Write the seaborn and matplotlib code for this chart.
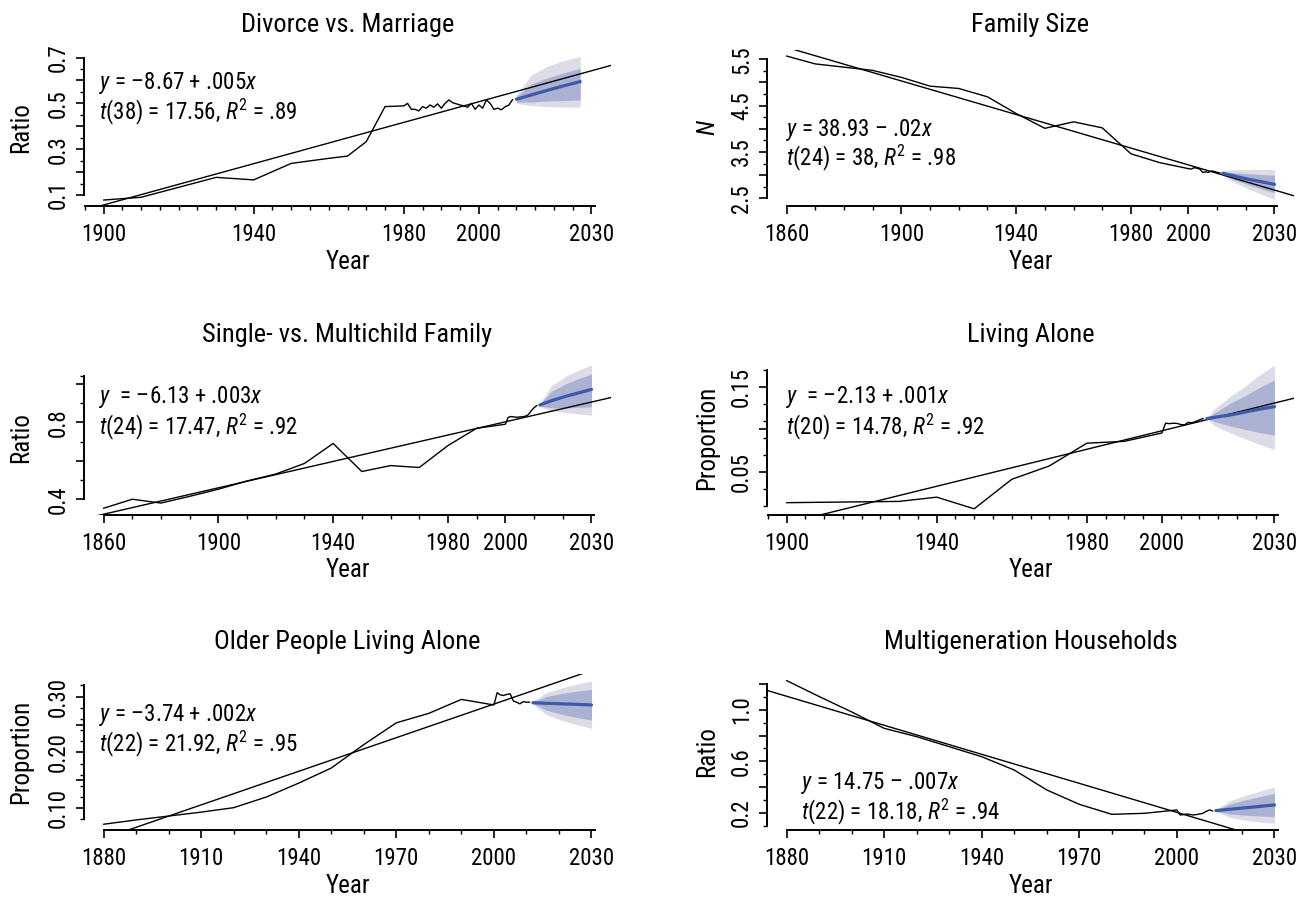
import numpy as np
import pandas as pd
import seaborn as sns
import matplotlib.pyplot as plt
from matplotlib import font_manager as fm

# ---------------- data ----------------
# Divorce vs. Marriage
divorce_years = [1900, 1910, 1930, 1940, 1950, 1960, 1965, 1970, 1975] + list(range(1980, 2010))
divorce_ratio = [0.078, 0.090, 0.177, 0.166, 0.238, 0.260, 0.270, 0.333, 0.486,
                 0.489, 0.500, 0.474, 0.474, 0.467, 0.486, 0.479, 0.493, 0.483, 0.498,
                 0.479, 0.500, 0.515, 0.503, 0.498, 0.493, 0.489, 0.483, 0.500, 0.474,
                 0.493, 0.479, 0.515, 0.500, 0.474, 0.479, 0.472, 0.485, 0.493, 0.517]
divorce_fc_years = [2010, 2014, 2018, 2022, 2027]
divorce_fc_mean = [0.518, 0.537, 0.556, 0.574, 0.595]
divorce_fc_hi95 = [0.537, 0.625, 0.660, 0.684, 0.704]
divorce_fc_hi80 = [0.530, 0.585, 0.610, 0.630, 0.653]
divorce_fc_lo80 = [0.505, 0.506, 0.510, 0.512, 0.515]
divorce_fc_lo95 = [0.500, 0.490, 0.486, 0.484, 0.483]

# Family Size
famsize_years = [1860, 1870, 1880, 1890, 1900, 1910, 1920, 1930, 1940, 1950, 1960,
                 1970, 1980, 1990] + list(range(2000, 2012))
famsize_n = [5.57, 5.40, 5.33, 5.26, 5.11, 4.92, 4.87, 4.69, 4.33, 4.01, 4.15,
             4.02, 3.46, 3.27, 3.14, 3.13, 3.16, 3.15, 3.13, 3.06, 3.07, 3.06,
             3.09, 3.08, 3.06, 3.05]
famsize_fc_years = [2012, 2016, 2021, 2026, 2030]
famsize_fc_mean = [3.04, 2.98, 2.91, 2.85, 2.80]
famsize_fc_hi95 = [3.10, 3.12, 3.12, 3.12, 3.12]
famsize_fc_hi80 = [3.07, 3.05, 3.03, 3.01, 3.00]
famsize_fc_lo80 = [3.01, 2.90, 2.79, 2.69, 2.62]
famsize_fc_lo95 = [2.99, 2.84, 2.70, 2.57, 2.48]

# Single- vs. Multichild Family
single_years = [1860, 1870, 1880, 1890, 1900, 1910, 1920, 1930, 1940, 1950, 1960,
                1970, 1980, 1990] + list(range(2000, 2012))
single_ratio = [0.353, 0.400, 0.380, 0.415, 0.452, 0.495, 0.531, 0.586, 0.690, 0.544,
                0.575, 0.565, 0.679, 0.769, 0.790, 0.826, 0.830, 0.828, 0.826, 0.828,
                0.829, 0.832, 0.840, 0.860, 0.876, 0.888]
single_fc_years = [2012, 2016, 2021, 2026, 2030]
single_fc_mean = [0.890, 0.912, 0.935, 0.955, 0.971]
single_fc_hi95 = [0.900, 0.990, 1.040, 1.075, 1.098]
single_fc_hi80 = [0.895, 0.960, 1.000, 1.030, 1.051]
single_fc_lo80 = [0.885, 0.875, 0.875, 0.878, 0.881]
single_fc_lo95 = [0.880, 0.860, 0.850, 0.843, 0.838]

# Living Alone
alone_years = [1900, 1910, 1920, 1930, 1940, 1950, 1960, 1970, 1980, 1990] + list(range(2000, 2012))
alone_prop = [0.0135, 0.0140, 0.0145, 0.0150, 0.0200, 0.0063, 0.0410, 0.0567, 0.0835,
              0.0857, 0.0955, 0.1070, 0.1065, 0.1070, 0.1068, 0.1055, 0.1050, 0.1080,
              0.1075, 0.1090, 0.1110, 0.1125]
alone_fc_years = [2012, 2014, 2018, 2022, 2026, 2030]
alone_fc_mean = [0.1125, 0.1140, 0.1165, 0.1200, 0.1235, 0.1265]
alone_fc_hi95 = [0.1125, 0.1240, 0.1380, 0.1500, 0.1640, 0.1755]
alone_fc_hi80 = [0.1125, 0.1190, 0.1300, 0.1390, 0.1490, 0.1580]
alone_fc_lo80 = [0.1125, 0.1090, 0.1040, 0.1000, 0.0960, 0.0930]
alone_fc_lo95 = [0.1125, 0.1040, 0.0960, 0.0890, 0.0820, 0.0763]

# Older People Living Alone
older_years = [1880, 1890, 1900, 1910, 1920, 1930, 1940, 1950, 1960, 1970, 1980,
               1990] + list(range(2000, 2012))
older_prop = [0.0713, 0.079, 0.086, 0.093, 0.101, 0.120, 0.145, 0.172, 0.214, 0.253,
              0.270, 0.295, 0.285, 0.307, 0.303, 0.302, 0.304, 0.305, 0.292, 0.290,
              0.287, 0.291, 0.290, 0.290]
older_fc_years = [2012, 2016, 2021, 2026, 2030]
older_fc_mean = [0.289, 0.288, 0.287, 0.286, 0.285]
older_fc_hi95 = [0.292, 0.307, 0.316, 0.323, 0.328]
older_fc_hi80 = [0.290, 0.300, 0.306, 0.310, 0.313]
older_fc_lo80 = [0.288, 0.276, 0.268, 0.262, 0.258]
older_fc_lo95 = [0.286, 0.268, 0.257, 0.249, 0.243]

# Multigeneration Households
multi_years = [1880, 1890, 1900, 1910, 1920, 1930, 1940, 1950, 1960, 1970, 1980,
               1990] + list(range(2000, 2012))
multi_ratio = [1.229, 1.105, 0.985, 0.857, 0.792, 0.714, 0.636, 0.532, 0.377, 0.265,
               0.187, 0.195, 0.221, 0.182, 0.185, 0.190, 0.186, 0.182, 0.185, 0.190,
               0.195, 0.210, 0.221, 0.213]
multi_fc_years = [2012, 2016, 2021, 2026, 2030]
multi_fc_mean = [0.216, 0.226, 0.238, 0.250, 0.260]
multi_fc_hi95 = [0.225, 0.290, 0.335, 0.372, 0.400]
multi_fc_hi80 = [0.220, 0.265, 0.300, 0.328, 0.350]
multi_fc_lo80 = [0.212, 0.190, 0.180, 0.174, 0.170]
multi_fc_lo95 = [0.208, 0.165, 0.140, 0.126, 0.118]

# ---------------- style ----------------
sns.set_theme(style="ticks")

# pick a condensed sans if one is installed
all_fonts = fm.fontManager.ttflist
font_names = {f.name for f in all_fonts}
family, stretch = 'Roboto', 'normal'
for cand in ['Liberation Sans Narrow', 'Roboto Condensed', 'Open Sans Condensed']:
    if cand in font_names:
        family = cand
        break
else:
    if any(f.name == 'DejaVu Sans' and 'condensed' in str(f.stretch) for f in all_fonts):
        family, stretch = 'DejaVu Sans', 'condensed'
    elif 'Roboto' not in font_names:
        family = 'Liberation Sans'

plt.rcParams['font.family'] = [family, 'DejaVu Sans']
plt.rcParams['font.stretch'] = stretch
plt.rcParams['mathtext.fontset'] = 'custom'
plt.rcParams['mathtext.rm'] = f'{family}:stretch={stretch}'
plt.rcParams['mathtext.it'] = f'{family}:italic:stretch={stretch}'

band_outer = '#dcdce6'
band_inner = '#aab1d3'
fc_blue = '#3c5aa8'

TICK_FS, NOTE_FS, LAB_FS, TITLE_FS = 16.5, 16.5, 18, 19

W, H = 1309, 899
fig = plt.figure(figsize=(W / 100, H / 100), dpi=100)


def make_ax(left, top, bottom, width=527):
    return fig.add_axes([left / W, 1 - bottom / H, width / W, (bottom - top) / H])


def draw_panel(ax, title, ylabel, years, vals, fc_years, fc_mean, hi95, hi80, lo80, lo95,
               ylim, yticks, ylabs, yminor, xticks, xminor, eq, stat, txt_xy, ylab_x,
               title_pad=13):
    span = 2030 - years[0]
    xlim = (years[0] - 0.04 * span, 2030 + 0.04 * span)
    ax.set_xlim(xlim)
    ax.set_ylim(ylim)

    # forecast intervals
    ax.fill_between(fc_years, lo95, hi95, color=band_outer, lw=0, zorder=1)
    ax.fill_between(fc_years, lo80, hi80, color=band_inner, lw=0, zorder=1)

    # linear trend over the whole x range, observed series, forecast mean
    sns.regplot(x=np.array(years, float), y=np.array(vals, float), ax=ax, scatter=False,
                ci=None, truncate=False, line_kws=dict(color='black', lw=1.0, zorder=2))
    sns.lineplot(x=years, y=vals, ax=ax, color='black', lw=1.0, estimator=None, zorder=3)
    sns.lineplot(x=fc_years, y=fc_mean, ax=ax, color=fc_blue, lw=2.3, estimator=None, zorder=4)

    ax.set_xlim(xlim)
    ax.set_ylim(ylim)

    ax.set_xticks(xticks)
    ax.set_xticklabels([str(t) for t in xticks])
    ax.set_xticks(xminor, minor=True)
    ax.set_yticks(yticks)
    ax.set_yticklabels(ylabs)
    ax.set_yticks([v for v in yminor if ylim[0] <= v <= ylim[1]], minor=True)
    for lab in ax.get_yticklabels():
        lab.set_rotation(90)
        lab.set_va('center')

    sns.despine(ax=ax)
    allx = sorted(set(xticks) | set(xminor))
    ally = sorted(v for v in set(yticks) | set(yminor) if ylim[0] <= v <= ylim[1])
    ax.spines['bottom'].set_bounds(allx[0], allx[-1] + 1)
    ax.spines['left'].set_bounds(ally[0], ally[-1])
    for s in ('left', 'bottom'):
        ax.spines[s].set_linewidth(1.4)
        ax.spines[s].set_color('black')

    ax.tick_params(which='major', length=6, width=1.2, color='black', labelsize=TICK_FS,
                   labelcolor='black')
    ax.tick_params(which='minor', length=3, width=1.0, color='black')
    ax.tick_params(axis='x', which='major', pad=6)
    ax.tick_params(axis='y', which='major', pad=4)

    ax.set_title(title, fontsize=TITLE_FS, pad=title_pad, color='black')
    ax.set_xlabel('Year', fontsize=LAB_FS, color='black')
    ax.xaxis.set_label_coords(0.5, -0.28)
    ax.set_ylabel(ylabel, fontsize=LAB_FS, color='black')
    ax.yaxis.set_label_coords(ylab_x, 0.5)

    ax.text(txt_xy[0], txt_xy[1], eq, transform=ax.transAxes, fontsize=NOTE_FS,
            ha='left', va='center', color='black')
    ax.text(txt_xy[0], txt_xy[2], stat, transform=ax.transAxes, fontsize=NOTE_FS,
            ha='left', va='center', color='black')
    ax.set_facecolor('white')


LX, RX = 84, 767
rows = [(50, 206), (360, 515), (674, 830)]

ax1 = make_ax(LX, *rows[0])
draw_panel(ax1, 'Divorce vs. Marriage', 'Ratio', divorce_years, divorce_ratio,
           divorce_fc_years, divorce_fc_mean, divorce_fc_hi95, divorce_fc_hi80,
           divorce_fc_lo80, divorce_fc_lo95,
           ylim=(0.052, 0.733), yticks=[0.1, 0.2, 0.3, 0.4, 0.5, 0.6, 0.7],
           ylabs=['0.1', '', '0.3', '', '0.5', '', '0.7'],
           yminor=[0.15, 0.25, 0.35, 0.45, 0.55, 0.65],
           xticks=[1900, 1940, 1980, 2000, 2030], xminor=list(range(1895, 2031, 5)),
           eq=r'$y$ = –8.67 + .005$x$', stat=r'$t$(38) = 17.56, $R^2$ = .89',
           txt_xy=(0.028, 0.788, 0.603), ylab_x=-0.097)

ax2 = make_ax(RX, *rows[0])
draw_panel(ax2, 'Family Size', r'$N$', famsize_years, famsize_n,
           famsize_fc_years, famsize_fc_mean, famsize_fc_hi95, famsize_fc_hi80,
           famsize_fc_lo80, famsize_fc_lo95,
           ylim=(2.334, 5.70), yticks=[2.5, 3.0, 3.5, 4.0, 4.5, 5.0, 5.5],
           ylabs=['2.5', '', '3.5', '', '4.5', '', '5.5'],
           yminor=[2.75, 3.25, 3.75, 4.25, 4.75, 5.25],
           xticks=[1860, 1900, 1940, 1980, 2000, 2030], xminor=list(range(1860, 2031, 10)),
           eq=r'$y$ = 38.93 – .02$x$', stat=r'$t$(24) = 38, $R^2$ = .98',
           txt_xy=(0.037, 0.487, 0.306), ylab_x=-0.09)

ax3 = make_ax(LX, *rows[1])
draw_panel(ax3, 'Single- vs. Multichild Family', 'Ratio', single_years, single_ratio,
           single_fc_years, single_fc_mean, single_fc_hi95, single_fc_hi80,
           single_fc_lo80, single_fc_lo95,
           ylim=(0.318, 1.124), yticks=[0.4, 0.6, 0.8, 1.0],
           ylabs=['0.4', '', '0.8', ''],
           yminor=[0.5, 0.7, 0.9, 1.04],
           xticks=[1860, 1900, 1940, 1980, 2000, 2030], xminor=list(range(1860, 2031, 10)),
           eq=r'$y$  = –6.13 + .003$x$', stat=r'$t$(24) = 17.47, $R^2$ = .92',
           txt_xy=(0.028, 0.759, 0.57), ylab_x=-0.097)

ax4 = make_ax(RX, *rows[1])
draw_panel(ax4, 'Living Alone', 'Proportion', alone_years, alone_prop,
           alone_fc_years, alone_fc_mean, alone_fc_hi95, alone_fc_hi80,
           alone_fc_lo80, alone_fc_lo95,
           ylim=(-0.001, 0.1814), yticks=[0.05, 0.10, 0.15],
           ylabs=['0.05', '', '0.15'],
           yminor=[0.01, 0.03, 0.07, 0.09, 0.11, 0.13, 0.17],
           xticks=[1900, 1940, 1980, 2000, 2030], xminor=list(range(1895, 2031, 5)),
           eq=r'$y$  = –2.13 + .001$x$', stat=r'$t$(20) = 14.78, $R^2$ = .92',
           txt_xy=(0.037, 0.759, 0.57), ylab_x=-0.09)

ax5 = make_ax(LX, *rows[2])
draw_panel(ax5, 'Older People Living Alone', 'Proportion', older_years, older_prop,
           older_fc_years, older_fc_mean, older_fc_hi95, older_fc_hi80,
           older_fc_lo80, older_fc_lo95,
           ylim=(0.061, 0.3405), yticks=[0.10, 0.15, 0.20, 0.25, 0.30],
           ylabs=['0.10', '', '0.20', '', '0.30'],
           yminor=[0.06, 0.08, 0.12, 0.14, 0.16, 0.18, 0.22, 0.24, 0.26, 0.28, 0.32],
           xticks=[1880, 1910, 1940, 1970, 2000, 2030], xminor=list(range(1880, 2031, 10)),
           eq=r'$y$ = –3.74 + .002$x$', stat=r'$t$(22) = 21.92, $R^2$ = .95',
           txt_xy=(0.028, 0.74, 0.553), ylab_x=-0.097, title_pad=18)

ax6 = make_ax(RX, *rows[2])
draw_panel(ax6, 'Multigeneration Households', 'Ratio', multi_years, multi_ratio,
           multi_fc_years, multi_fc_mean, multi_fc_hi95, multi_fc_hi80,
           multi_fc_lo80, multi_fc_lo95,
           ylim=(0.065, 1.28), yticks=[0.2, 0.4, 0.6, 0.8, 1.0, 1.2],
           ylabs=['0.2', '', '0.6', '', '1.0', ''],
           yminor=[0.1, 0.3, 0.5, 0.7, 0.9, 1.1],
           xticks=[1880, 1910, 1940, 1970, 2000, 2030], xminor=list(range(1880, 2031, 10)),
           eq=r'$y$ = 14.75 – .007$x$', stat=r'$t$(22) = 18.18, $R^2$ = .94',
           txt_xy=(0.065, 0.30, 0.118), ylab_x=-0.09, title_pad=18)

fig.savefig('out.png', dpi=100, facecolor='white')
